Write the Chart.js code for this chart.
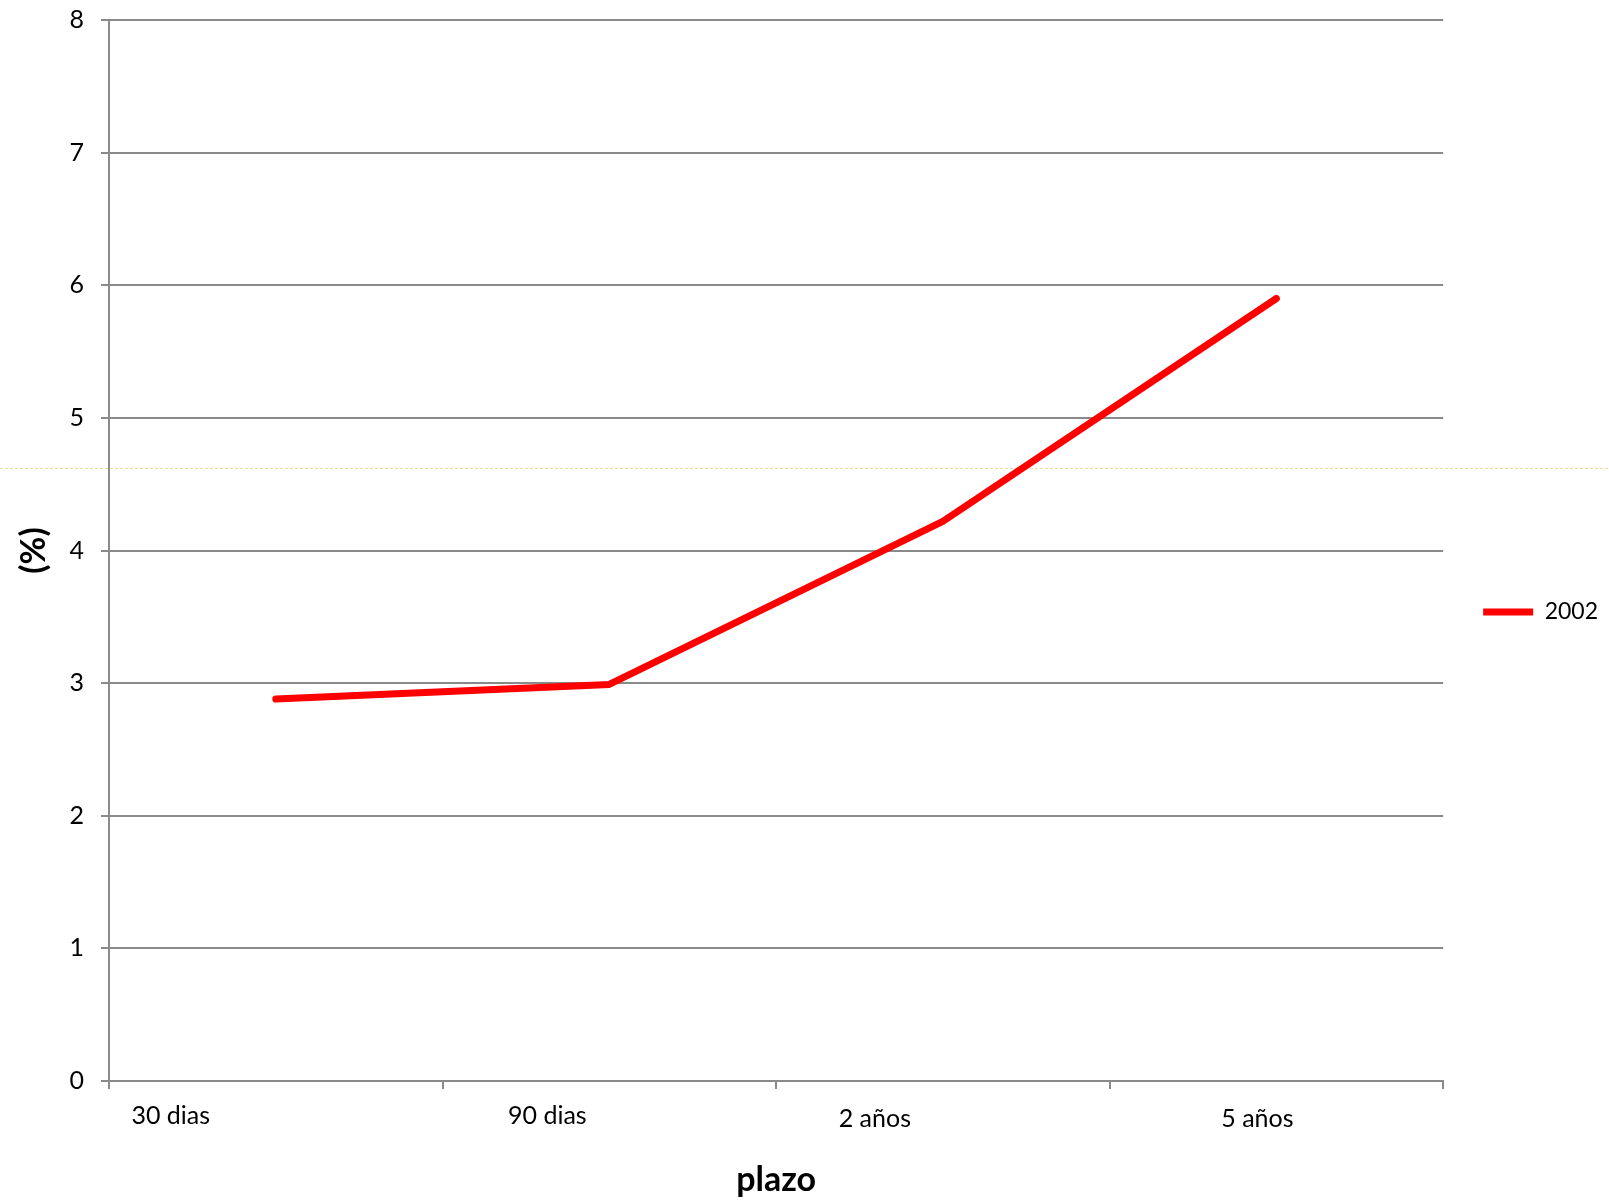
<!DOCTYPE html>
<html>
<head>
<meta charset="utf-8">
<script src="https://cdn.jsdelivr.net/npm/chart.js@4/dist/chart.umd.min.js"></script>
<style>
  html, body { margin: 0; padding: 0; background: #ffffff; }
  #wrap { width: 1609px; height: 1204px; }
</style>
</head>
<body>
<div id="wrap"><canvas id="c" width="1609" height="1204"></canvas></div>
<script>
// Term structure: rate (%) by term for 2002
const categories = ['30 dias', '90 dias', '2 años', '5 años'];
const seriesName = '2002';
const rates2002 = [2.88, 2.99, 4.22, 5.90];
const yTicks = [0, 1, 2, 3, 4, 5, 6, 7, 8];

const FONT = 'Lato, "Open Sans", "DejaVu Sans", sans-serif';
const GRID = '#8a8a8a';

// Faint dotted seam running across the whole sheet
const seamLine = {
  id: 'seamLine',
  beforeDraw(chart, args, opts) {
    const ctx = chart.ctx;
    ctx.save();
    ctx.strokeStyle = opts.color;
    ctx.lineWidth = 1;
    ctx.setLineDash([3, 2]);
    ctx.beginPath();
    ctx.moveTo(0, opts.y + 0.5);
    ctx.lineTo(chart.width, opts.y + 0.5);
    ctx.stroke();
    ctx.restore();
  }
};

// Category labels under the x axis, each nudged from its tick centre
const categoryLabels = {
  id: 'categoryLabels',
  afterDraw(chart, args, opts) {
    const xs = chart.scales.x;
    const ctx = chart.ctx;
    ctx.save();
    ctx.font = opts.font;
    ctx.fillStyle = opts.color;
    ctx.textAlign = 'center';
    ctx.textBaseline = 'middle';
    categories.forEach((label, i) => {
      const s = opts.shifts[i] || [0, 0];
      ctx.fillText(label, xs.getPixelForTick(i) + s[0], xs.top + opts.top + s[1]);
    });
    ctx.restore();
  }
};

new Chart(document.getElementById('c'), {
  type: 'line',
  data: {
    labels: categories,
    datasets: [{
      label: seriesName,
      data: rates2002,
      borderColor: '#ff0000',
      backgroundColor: '#ff0000',
      borderWidth: 7,
      borderCapStyle: 'round',
      borderJoinStyle: 'round',
      pointRadius: 0,
      pointHoverRadius: 0,
      tension: 0,
      fill: false
    }]
  },
  plugins: [seamLine, categoryLabels],
  options: {
    responsive: false,
    animation: false,
    events: [],
    layout: { padding: { top: 20, right: 1, bottom: 0, left: 0 } },
    plugins: {
      tooltip: { enabled: false },
      title: { display: false },
      seamLine: { y: 468, color: 'rgba(238, 205, 130, 0.75)' },
      categoryLabels: {
        font: '25px ' + FONT,
        color: '#000000',
        top: 35,
        shifts: [[-105, 0], [-62, 0], [-68, 3], [-19, 3]]
      },
      legend: {
        display: true,
        position: 'right',
        align: 'center',
        labels: {
          usePointStyle: true,
          pointStyle: 'line',
          pointStyleWidth: 50,
          padding: 40,
          color: '#000000',
          font: { family: FONT, size: 23 }
        }
      }
    },
    scales: {
      x: {
        type: 'category',
        offset: true,
        afterFit(scale) { scale.height = 123; },
        grid: {
          display: true,
          offset: true,
          drawOnChartArea: false,
          drawTicks: true,
          tickLength: 8,
          tickColor: GRID,
          tickWidth: 2,
          color: GRID,
          lineWidth: 2
        },
        border: { display: true, color: GRID, width: 2 },
        ticks: { display: false },
        title: {
          display: true,
          text: 'plazo',
          color: '#000000',
          font: { family: FONT, size: 34, weight: 'bold' },
          padding: { top: 0, bottom: 4 }
        }
      },
      y: {
        min: yTicks[0],
        max: yTicks[yTicks.length - 1],
        afterFit(scale) {
          scale.width = 109;
          scale.paddingTop = 0;
          scale.paddingBottom = 0;
        },
        afterBuildTicks(scale) { scale.ticks = yTicks.map(v => ({ value: v })); },
        grid: {
          display: true,
          color: GRID,
          lineWidth: 2,
          drawTicks: true,
          tickLength: 8,
          tickColor: GRID
        },
        border: { display: true, color: GRID, width: 2 },
        ticks: {
          color: '#000000',
          padding: 17,
          font: { family: FONT, size: 25 }
        },
        title: {
          display: true,
          text: '(%)',
          color: '#000000',
          font: { family: FONT, size: 34, weight: 'bold' },
          padding: { top: 14, bottom: 0 }
        }
      }
    }
  }
});
</script>
</body>
</html>
